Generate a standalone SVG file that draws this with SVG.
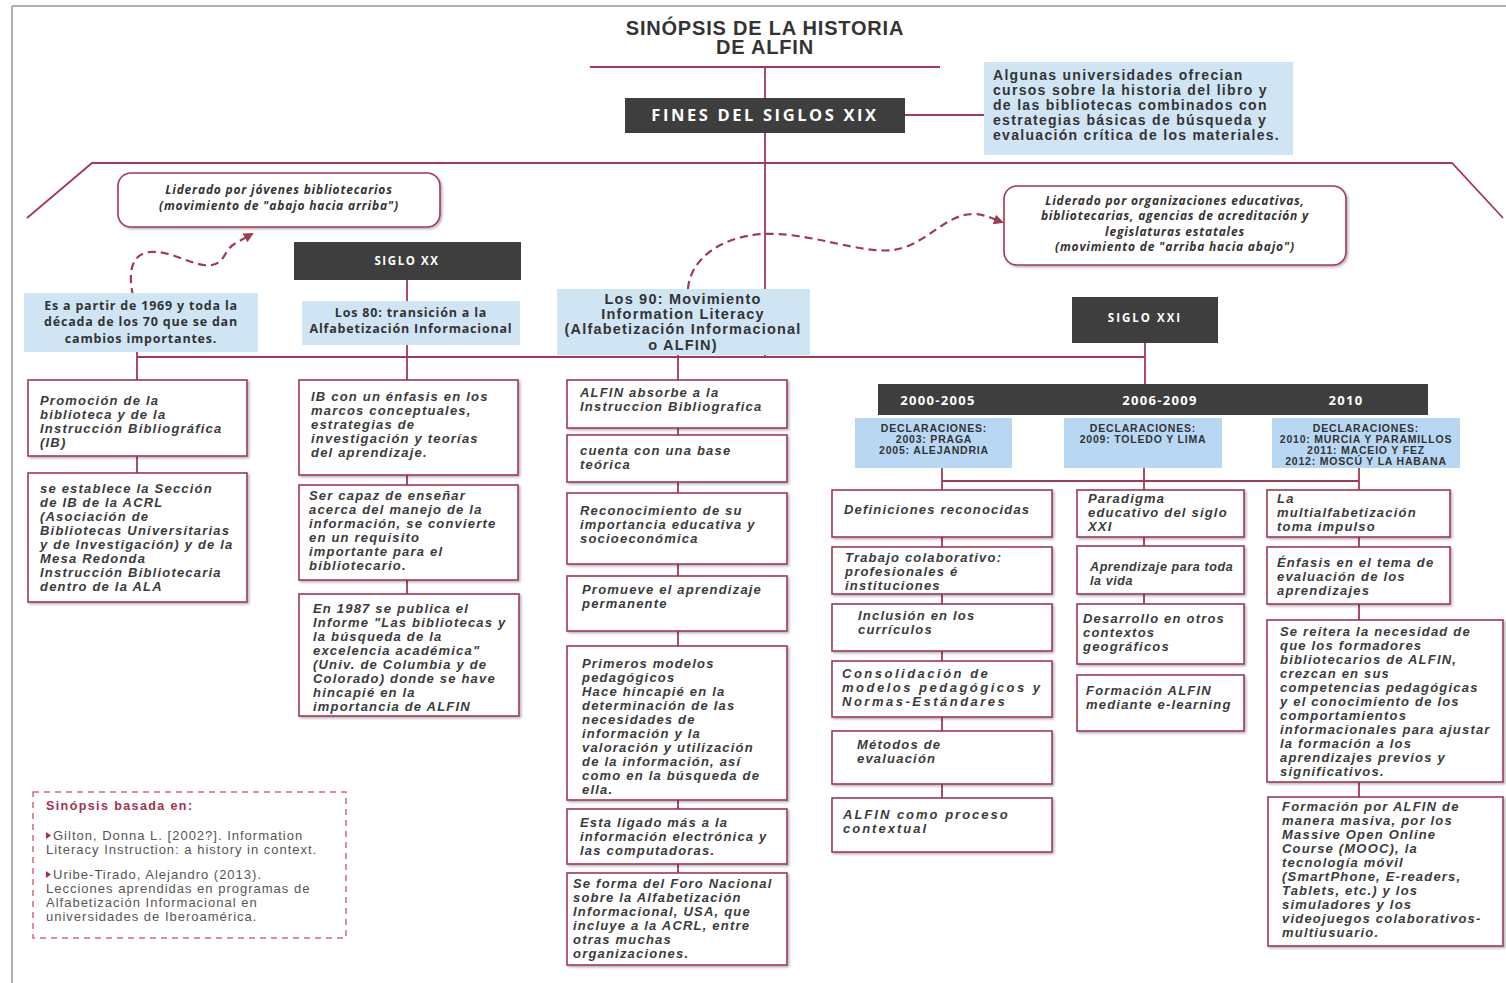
<svg xmlns="http://www.w3.org/2000/svg" width="1506" height="983" viewBox="0 0 1506 983">
<defs>
<style>
.bx{fill:#fff;stroke:#a03a55;stroke-width:1.6;filter:url(#sh)}
.blue{fill:#d0e5f3}
.dblue{fill:#b8d7f3}
.dark{fill:#3e3e3e}
.t{font-family:"Liberation Sans",Arial,sans-serif;font-size:13px;font-weight:bold;font-style:italic;fill:#3a3a3a;letter-spacing:1.2px}
.b{font-family:"Liberation Sans",Arial,sans-serif;font-weight:bold;fill:#333}
.o{font-family:"Open Sans","Liberation Sans",sans-serif;font-size:12.5px;font-weight:bold;fill:#333;text-anchor:middle;letter-spacing:0.8px}
.w{font-family:"Open Sans","Liberation Sans",sans-serif;font-weight:bold;fill:#fff;text-anchor:middle}
.li{font-family:"Open Sans","Liberation Sans",sans-serif;font-size:12px;font-weight:bold;font-style:italic;fill:#333;text-anchor:middle;letter-spacing:0.8px}
.d{font-family:"Liberation Sans",Arial,sans-serif;font-size:10.5px;font-weight:bold;fill:#333;text-anchor:middle;letter-spacing:0.8px}
.r{font-family:"Liberation Sans",Arial,sans-serif;font-size:13px;fill:#555;letter-spacing:1px}
.c line,.c path{stroke:#a03a55;stroke-width:1.8;fill:none}
.c .ds{stroke-width:2.2;stroke-dasharray:8 5}
</style>
<filter id="sh" x="-5%" y="-5%" width="115%" height="115%">
<feDropShadow dx="1.5" dy="1.5" stdDeviation="1" flood-color="#000" flood-opacity="0.3"/>
</filter>
<marker id="ar" markerWidth="10" markerHeight="10" refX="8" refY="5" orient="auto" markerUnits="userSpaceOnUse">
<path d="M0,0 L10,5 L0,10 Z" fill="#a03a55"/>
</marker>
</defs>
<rect x="0" y="0" width="1506" height="983" fill="#fff"/>
<g id="frame" stroke="#b0b0b0" stroke-width="2" fill="none">
<line x1="12" y1="6" x2="1506" y2="6"/>
<line x1="12" y1="6" x2="12" y2="983"/>
</g>

<g class="c" id="connectors">
<line x1="590" y1="67" x2="940" y2="67"/>
<line x1="765" y1="67" x2="765" y2="357"/>
<line x1="905" y1="115" x2="984" y2="115"/>
<path d="M27,218 L92,163 L1452,163 L1503,218"/>
<line x1="137" y1="357" x2="1145" y2="357"/>
<line x1="137" y1="352" x2="137" y2="380"/>
<line x1="137" y1="456" x2="137" y2="473"/>
<line x1="407" y1="280" x2="407" y2="380"/>
<line x1="407" y1="475" x2="407" y2="485"/>
<line x1="407" y1="580" x2="407" y2="594"/>
<line x1="678" y1="355" x2="678" y2="380"/>
<line x1="678" y1="428" x2="678" y2="435"/>
<line x1="678" y1="482" x2="678" y2="493"/>
<line x1="678" y1="564" x2="678" y2="576"/>
<line x1="678" y1="631" x2="678" y2="646"/>
<line x1="678" y1="800" x2="678" y2="809"/>
<line x1="678" y1="864" x2="678" y2="873"/>
<line x1="1145" y1="343" x2="1145" y2="384"/>
<line x1="942" y1="481" x2="1359" y2="481"/>
<line x1="942" y1="468" x2="942" y2="490"/>
<line x1="942" y1="537" x2="942" y2="547"/>
<line x1="942" y1="594" x2="942" y2="604"/>
<line x1="942" y1="651" x2="942" y2="661"/>
<line x1="942" y1="717" x2="942" y2="731"/>
<line x1="942" y1="784" x2="942" y2="798"/>
<line x1="1144" y1="468" x2="1144" y2="490"/>
<line x1="1144" y1="537" x2="1144" y2="546"/>
<line x1="1144" y1="594" x2="1144" y2="604"/>
<line x1="1359" y1="468" x2="1359" y2="490"/>
<line x1="1359" y1="537" x2="1359" y2="547"/>
<line x1="1359" y1="604" x2="1359" y2="620"/>
<line x1="1359" y1="782" x2="1359" y2="797"/>
<path class="ds" d="M133,296 C128,272 131,254 150,252 C172,250 195,268 212,265 C226,262 224,249 236,243 L252,234" marker-end="url(#ar)"/>
<path class="ds" d="M688,289 C690,260 720,236 764,234 C810,232 860,254 893,250 C925,246 945,214 973,214 C985,214 993,219 1002,222" marker-end="url(#ar)"/>
</g>

<g id="title">
<text class="b" x="765" y="35" font-size="20" letter-spacing="0.8" text-anchor="middle">SINÓPSIS DE LA HISTORIA</text>
<text class="b" x="765" y="54" font-size="20" letter-spacing="0.8" text-anchor="middle">DE ALFIN</text>
</g>

<g id="fines">
<rect class="dark" x="625" y="98" width="280" height="35"/>
<text class="w" x="765" y="121" font-size="16.5" letter-spacing="2.6">FINES DEL SIGLOS XIX</text>
</g>

<g id="universidades">
<rect class="blue" x="984" y="62" width="309" height="93"/>
<text class="b" font-size="14" letter-spacing="1.3"><tspan x="993" y="80">Algunas universidades ofrecian</tspan><tspan x="993" y="95">cursos sobre  la historia del libro y</tspan><tspan x="993" y="110">de las bibliotecas combinados con</tspan><tspan x="993" y="125">estrategias básicas de búsqueda y</tspan><tspan x="993" y="140">evaluación crítica de los materiales.</tspan></text>
</g>

<g id="liderado-jovenes">
<rect class="bx" x="118" y="173" width="322" height="54" rx="13"/>
<text class="li"><tspan x="279" y="194">Liderado por jóvenes bibliotecarios</tspan><tspan x="279" y="210">(movimiento de "abajo hacia arriba")</tspan></text>
</g>

<g id="liderado-org">
<rect class="bx" x="1004" y="186" width="342" height="79" rx="13"/>
<text class="li"><tspan x="1175" y="205">Liderado por organizaciones educativas,</tspan><tspan x="1175" y="220">bibliotecarias, agencias de acreditación y</tspan><tspan x="1175" y="236">legislaturas estatales</tspan><tspan x="1175" y="251">(movimiento de "arriba hacia abajo")</tspan></text>
</g>

<g id="siglo-xx">
<rect class="dark" x="294" y="242" width="227" height="38"/>
<text class="w" x="407" y="265" font-size="11.5" letter-spacing="1.6">SIGLO XX</text>
</g>

<g id="siglo-xxi">
<rect class="dark" x="1072" y="297" width="146" height="46"/>
<text class="w" x="1145" y="322" font-size="11.5" letter-spacing="2">SIGLO XXI</text>
</g>

<g id="es-a-partir">
<rect class="blue" x="24" y="293" width="234" height="59"/>
<text class="o"><tspan x="141" y="310">Es a partir de 1969 y toda la</tspan><tspan x="141" y="326">década de los 70 que se dan</tspan><tspan x="141" y="343">cambios importantes.</tspan></text>
</g>

<g id="los-80">
<rect class="blue" x="302" y="301" width="218" height="44"/>
<text class="o"><tspan x="411" y="317">Los 80: transición a la</tspan><tspan x="411" y="333">Alfabetización Informacional</tspan></text>
</g>

<g id="los-90">
<rect class="blue" x="557" y="289" width="253" height="66"/>
<text class="b" font-size="14.5" letter-spacing="1.2" text-anchor="middle"><tspan x="683" y="304">Los 90: Movimiento</tspan><tspan x="683" y="319">Information Literacy</tspan><tspan x="683" y="334">(Alfabetización Informacional</tspan><tspan x="683" y="350">o ALFIN)</tspan></text>
</g>

<g id="promocion">
<rect class="bx" x="28" y="380" width="219" height="76"/>
<text class="t"><tspan x="40" y="405">Promoción de la</tspan><tspan x="40" y="419">biblioteca y de la</tspan><tspan x="40" y="433">Instrucción Bibliográfica</tspan><tspan x="40" y="447">(IB)</tspan></text>
</g>

<g id="seccion-ib">
<rect class="bx" x="28" y="473" width="219" height="129"/>
<text class="t"><tspan x="40" y="493">se establece la Sección</tspan><tspan x="40" y="507">de IB de la ACRL</tspan><tspan x="40" y="521">(Asociación de</tspan><tspan x="40" y="535">Bibliotecas Universitarias</tspan><tspan x="40" y="549">y de Investigación) y de la</tspan><tspan x="40" y="563">Mesa Redonda</tspan><tspan x="40" y="577">Instrucción Bibliotecaria</tspan><tspan x="40" y="591">dentro de la ALA</tspan></text>
</g>

<g id="ib-enfasis">
<rect class="bx" x="299" y="380" width="219" height="95"/>
<text class="t"><tspan x="311" y="401">IB con un énfasis en los</tspan><tspan x="311" y="415">marcos conceptuales,</tspan><tspan x="311" y="429">estrategias de</tspan><tspan x="311" y="443">investigación y teorías</tspan><tspan x="311" y="457">del aprendizaje.</tspan></text>
</g>

<g id="ser-capaz">
<rect class="bx" x="299" y="485" width="219" height="95"/>
<text class="t"><tspan x="309" y="500">Ser capaz de enseñar</tspan><tspan x="309" y="514">acerca del manejo de  la</tspan><tspan x="309" y="528">información, se convierte</tspan><tspan x="309" y="542">en un requisito</tspan><tspan x="309" y="556">importante para el</tspan><tspan x="309" y="570">bibliotecario.</tspan></text>
</g>

<g id="en-1987">
<rect class="bx" x="299" y="594" width="220" height="122"/>
<text class="t"><tspan x="313" y="613">En 1987 se publica el</tspan><tspan x="313" y="627">Informe "Las bibliotecas y</tspan><tspan x="313" y="641">la búsqueda de la</tspan><tspan x="313" y="655">excelencia académica"</tspan><tspan x="313" y="669">(Univ. de Columbia y de</tspan><tspan x="313" y="683">Colorado) donde se have</tspan><tspan x="313" y="697">hincapié en la</tspan><tspan x="313" y="711">importancia de ALFIN</tspan></text>
</g>

<g id="alfin-absorbe">
<rect class="bx" x="567" y="380" width="220" height="48"/>
<text class="t"><tspan x="580" y="397">ALFIN absorbe a la</tspan><tspan x="580" y="411">Instruccion Bibliografica</tspan></text>
</g>

<g id="base-teorica">
<rect class="bx" x="567" y="435" width="220" height="47"/>
<text class="t"><tspan x="580" y="455">cuenta con una base</tspan><tspan x="580" y="469">teórica</tspan></text>
</g>

<g id="reconocimiento">
<rect class="bx" x="567" y="493" width="220" height="71"/>
<text class="t"><tspan x="580" y="515">Reconocimiento de su</tspan><tspan x="580" y="529">importancia educativa y</tspan><tspan x="580" y="543">socioeconómica</tspan></text>
</g>

<g id="promueve">
<rect class="bx" x="567" y="576" width="220" height="55"/>
<text class="t"><tspan x="582" y="594">Promueve el aprendizaje</tspan><tspan x="582" y="608">permanente</tspan></text>
</g>

<g id="primeros-modelos">
<rect class="bx" x="567" y="646" width="220" height="154"/>
<text class="t"><tspan x="582" y="668">Primeros modelos</tspan><tspan x="582" y="682">pedagógicos</tspan><tspan x="582" y="696">Hace hincapié en la</tspan><tspan x="582" y="710">determinación de las</tspan><tspan x="582" y="724">necesidades de</tspan><tspan x="582" y="738">información y la</tspan><tspan x="582" y="752">valoración y utilización</tspan><tspan x="582" y="766">de la información, así</tspan><tspan x="582" y="780">como en la búsqueda de</tspan><tspan x="582" y="794">ella.</tspan></text>
</g>

<g id="esta-ligado">
<rect class="bx" x="567" y="809" width="220" height="55"/>
<text class="t"><tspan x="580" y="827">Esta ligado más a la</tspan><tspan x="580" y="841">información electrónica y</tspan><tspan x="580" y="855">las computadoras.</tspan></text>
</g>

<g id="foro-nacional">
<rect class="bx" x="567" y="873" width="220" height="92"/>
<text class="t"><tspan x="573" y="888">Se forma del Foro Nacional</tspan><tspan x="573" y="902">sobre la Alfabetización</tspan><tspan x="573" y="916">Informacional, USA, que</tspan><tspan x="573" y="930">incluye a la ACRL, entre</tspan><tspan x="573" y="944">otras muchas</tspan><tspan x="573" y="958">organizaciones.</tspan></text>
</g>

<g id="timeline">
<rect class="dark" x="878" y="384" width="550" height="31"/>
<text class="w" x="938" y="405" font-size="13" letter-spacing="1.3">2000-2005</text>
<text class="w" x="1160" y="405" font-size="13" letter-spacing="1.3">2006-2009</text>
<text class="w" x="1346" y="405" font-size="13" letter-spacing="1.3">2010</text>
</g>

<g id="decl-2000">
<rect class="dblue" x="855" y="418" width="157" height="50"/>
<text class="d"><tspan x="934" y="432">DECLARACIONES:</tspan><tspan x="934" y="443">2003: PRAGA</tspan><tspan x="934" y="454">2005: ALEJANDRIA</tspan></text>
</g>

<g id="decl-2006">
<rect class="dblue" x="1064" y="418" width="158" height="50"/>
<text class="d"><tspan x="1143" y="432">DECLARACIONES:</tspan><tspan x="1143" y="443">2009: TOLEDO Y LIMA</tspan></text>
</g>

<g id="decl-2010">
<rect class="dblue" x="1272" y="418" width="188" height="50"/>
<text class="d"><tspan x="1366" y="432">DECLARACIONES:</tspan><tspan x="1366" y="443">2010: MURCIA Y PARAMILLOS</tspan><tspan x="1366" y="454">2011: MACEIO Y FEZ</tspan><tspan x="1366" y="465">2012: MOSCÚ Y LA HABANA</tspan></text>
</g>

<g id="definiciones">
<rect class="bx" x="832" y="490" width="220" height="47"/>
<text class="t"><tspan x="844" y="514">Definiciones reconocidas</tspan></text>
</g>

<g id="trabajo">
<rect class="bx" x="832" y="547" width="220" height="47"/>
<text class="t"><tspan x="845" y="562">Trabajo colaborativo:</tspan><tspan x="845" y="576">profesionales é</tspan><tspan x="845" y="590">instituciones</tspan></text>
</g>

<g id="inclusion">
<rect class="bx" x="832" y="604" width="220" height="47"/>
<text class="t"><tspan x="858" y="620">Inclusión en los</tspan><tspan x="858" y="634">currículos</tspan></text>
</g>

<g id="consolidacion">
<rect class="bx" x="832" y="661" width="220" height="56"/>
<text class="t" style="letter-spacing:2.5px"><tspan x="842" y="678">Consolidación de</tspan><tspan x="842" y="692">modelos pedagógicos y</tspan><tspan x="842" y="706">Normas-Estándares</tspan></text>
</g>

<g id="metodos">
<rect class="bx" x="832" y="731" width="220" height="53"/>
<text class="t"><tspan x="857" y="749">Métodos de</tspan><tspan x="857" y="763">evaluación</tspan></text>
</g>

<g id="proceso-contextual">
<rect class="bx" x="832" y="798" width="220" height="54"/>
<text class="t" style="letter-spacing:2px"><tspan x="843" y="819">ALFIN como proceso</tspan><tspan x="843" y="833">contextual</tspan></text>
</g>

<g id="paradigma">
<rect class="bx" x="1077" y="490" width="167" height="47"/>
<text class="t"><tspan x="1088" y="503">Paradigma</tspan><tspan x="1088" y="517">educativo del siglo</tspan><tspan x="1088" y="531">XXI</tspan></text>
</g>

<g id="aprendizaje-vida">
<rect class="bx" x="1077" y="546" width="167" height="48"/>
<text class="t" style="font-size:12.5px;letter-spacing:0.6px"><tspan x="1090" y="571">Aprendizaje para toda</tspan><tspan x="1090" y="585">la vida</tspan></text>
</g>

<g id="desarrollo">
<rect class="bx" x="1077" y="604" width="167" height="60"/>
<text class="t"><tspan x="1083" y="623">Desarrollo en otros</tspan><tspan x="1083" y="637">contextos</tspan><tspan x="1083" y="651">geográficos</tspan></text>
</g>

<g id="elearning">
<rect class="bx" x="1077" y="675" width="167" height="56"/>
<text class="t"><tspan x="1086" y="695">Formación ALFIN</tspan><tspan x="1086" y="709">mediante e-learning</tspan></text>
</g>

<g id="multialfabetizacion">
<rect class="bx" x="1267" y="490" width="183" height="47"/>
<text class="t"><tspan x="1277" y="503">La</tspan><tspan x="1277" y="517">multialfabetización</tspan><tspan x="1277" y="531">toma impulso</tspan></text>
</g>

<g id="enfasis-evaluacion">
<rect class="bx" x="1267" y="547" width="183" height="57"/>
<text class="t"><tspan x="1277" y="567">Énfasis en el tema de</tspan><tspan x="1277" y="581">evaluación de los</tspan><tspan x="1277" y="595">aprendizajes</tspan></text>
</g>

<g id="se-reitera">
<rect class="bx" x="1267" y="620" width="236" height="162"/>
<text class="t"><tspan x="1280" y="636">Se reitera la necesidad de</tspan><tspan x="1280" y="650">que los formadores</tspan><tspan x="1280" y="664">bibliotecarios de ALFIN,</tspan><tspan x="1280" y="678">crezcan en sus</tspan><tspan x="1280" y="692">competencias pedagógicas</tspan><tspan x="1280" y="706">y el conocimiento de los</tspan><tspan x="1280" y="720">comportamientos</tspan><tspan x="1280" y="734">informacionales para ajustar</tspan><tspan x="1280" y="748">la formación a los</tspan><tspan x="1280" y="762">aprendizajes previos y</tspan><tspan x="1280" y="776">significativos.</tspan></text>
</g>

<g id="mooc">
<rect class="bx" x="1268" y="797" width="235" height="149"/>
<text class="t"><tspan x="1282" y="811">Formación por ALFIN de</tspan><tspan x="1282" y="825">manera masiva, por los</tspan><tspan x="1282" y="839">Massive Open Online</tspan><tspan x="1282" y="853">Course (MOOC), la</tspan><tspan x="1282" y="867">tecnología móvil</tspan><tspan x="1282" y="881">(SmartPhone, E-readers,</tspan><tspan x="1282" y="895">Tablets, etc.) y los</tspan><tspan x="1282" y="909">simuladores y los</tspan><tspan x="1282" y="923">videojuegos colaborativos-</tspan><tspan x="1282" y="937">multiusuario.</tspan></text>
</g>

<g id="referencias">
<rect x="33" y="792" width="313" height="146" fill="none" stroke="#d06a80" stroke-width="1.5" stroke-dasharray="6 5"/>
<text class="b" x="46" y="810" font-size="12.5" letter-spacing="1.4" style="fill:#a3304b">Sinópsis basada en:</text>
<path d="M46,832 L51,835.5 L46,839 Z" fill="#a3304b"/>
<text class="r"><tspan x="53" y="840">Gilton, Donna L. [2002?]. Information</tspan><tspan x="46" y="854">Literacy Instruction: a history in context.</tspan></text>
<path d="M46,871 L51,874.5 L46,878 Z" fill="#a3304b"/>
<text class="r"><tspan x="53" y="879">Uribe-Tirado, Alejandro (2013).</tspan><tspan x="46" y="893">Lecciones aprendidas en programas de</tspan><tspan x="46" y="907">Alfabetización Informacional en</tspan><tspan x="46" y="921">universidades de Iberoamérica.</tspan></text>
</g>
</svg>
